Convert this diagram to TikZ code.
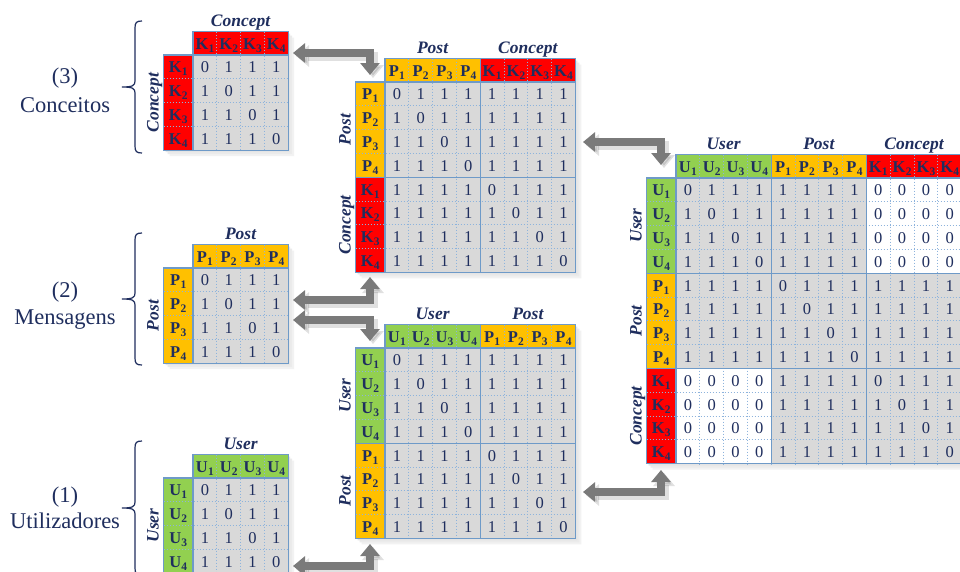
\documentclass[tikz,border=0pt]{standalone}
\usepackage{fontspec}
\setmainfont{Liberation Serif}
\usetikzlibrary{arrows.meta}

\definecolor{ink}{HTML}{1F2E5E}
\definecolor{userc}{HTML}{92D050}
\definecolor{postc}{HTML}{FFC000}
\definecolor{concc}{HTML}{FF0000}
\definecolor{cellc}{HTML}{D9D9D9}
\definecolor{edgec}{HTML}{6E9AC8}
\definecolor{dotc}{HTML}{8DB3DC}
\definecolor{arrowc}{HTML}{7A7A7A}

% block types: 1 = user, 2 = post, 3 = concept
\colorlet{blk1}{userc}\colorlet{blk2}{postc}\colorlet{blk3}{concc}
\expandafter\def\csname blkletter1\endcsname{U}
\expandafter\def\csname blkletter2\endcsname{P}
\expandafter\def\csname blkletter3\endcsname{K}
\expandafter\def\csname blktitle1\endcsname{User}
\expandafter\def\csname blktitle2\endcsname{Post}
\expandafter\def\csname blktitle3\endcsname{Concept}

% cell and header sizes
\def\cw{23.8}\def\ch{23.8}\def\hw{29.5}\def\hh{23.5}

% header label: bold letter with a bold subscript index
\newcommand\hdrlabel[2]{#1\kern0.2pt\raisebox{-3pt}{\fontsize{11.5}{11.5}\selectfont#2}}

\tikzset{
  numtxt/.style={inner sep=0pt, anchor=base, text=ink, font=\fontsize{16.5}{16.5}\selectfont},
  hdrtxt/.style={inner sep=0pt, anchor=base, text=ink, font=\fontsize{16.5}{16.5}\selectfont\bfseries},
  ttltxt/.style={inner sep=0pt, anchor=base, text=ink, font=\fontsize{17.5}{17.5}\selectfont\bfseries\itshape},
  sidetxt/.style={inner sep=0pt, anchor=base, text=ink, font=\fontsize{22.5}{22.5}\selectfont},
  bracestroke/.style={draw=ink, line width=1.2pt},
  dotgrid/.style={draw=dotc, line width=0.7pt, dash pattern=on 1pt off 2pt},
  blockrule/.style={draw=edgec, line width=1.1pt},
  linkarrow/.style={draw=arrowc, line width=8pt,
    {Triangle[width=19pt,length=12pt]}-{Triangle[width=19pt,length=12pt]}},
  linkshade/.style={draw=black, line width=9pt, opacity=.12,
    {Triangle[width=21pt,length=13pt]}-{Triangle[width=21pt,length=13pt]}},
}

% adjacency matrix: #1 name, #2,#3 top-left corner of the data cells, #4 block types
\newcommand\adjmat[4]{%
  \begin{scope}[shift={(#2,#3)}]
    \foreach \t [count=\k] in {#4} {\xdef\nblk{\k}}%
    \pgfmathsetmacro\matW{4*\nblk*\cw}%
    \pgfmathsetmacro\matH{4*\nblk*\ch}%
    \pgfmathtruncatemacro\matNm{4*\nblk-1}%
    % soft drop shadow
    \foreach \o/\s in {6/5,4/8,2/10}
      \fill[black!\s, shift={(\o,\o)}] (0,-\hh) -- (\matW,-\hh) -- (\matW,\matH)
        -- (-\hw,\matH) -- (-\hw,0) -- (0,0) -- cycle;
    % headers, cells and values
    \foreach \r [count=\rb from 0] in {#4} {
      \fill[fill=blk\r] (-\hw,{4*\rb*\ch}) rectangle (0,{4*(\rb+1)*\ch});
      \fill[fill=blk\r] ({4*\rb*\cw},-\hh) rectangle ({4*(\rb+1)*\cw},0);
      \foreach \c [count=\cb from 0] in {#4} {
        \pgfmathtruncatemacro\pr{\r*\c}%
        \ifnum\pr=3 \def\bgc{white}\def\offv{0}\else\def\bgc{cellc}\def\offv{1}\fi
        \fill[fill=\bgc] ({4*\cb*\cw},{4*\rb*\ch}) rectangle ({4*(\cb+1)*\cw},{4*(\rb+1)*\ch});
        \foreach \i in {1,...,4} {\foreach \j in {1,...,4} {
          \pgfmathtruncatemacro\rowi{4*\rb+\i}%
          \pgfmathtruncatemacro\coli{4*\cb+\j}%
          \edef\val{\offv}%
          \ifnum\rowi=\coli \def\val{0}\fi
          \node[numtxt] (#1-\rowi-\coli) at ({(\coli-0.5)*\cw},{(\rowi-0.5)*\ch+6}) {\val};
        }}
      }
    }
    % grid
    \foreach \k in {1,...,\matNm} {
      \draw[dotgrid] ({\k*\cw},-\hh) -- ({\k*\cw},\matH);
      \draw[dotgrid] (-\hw,{\k*\ch}) -- (\matW,{\k*\ch});
    }
    \ifnum\nblk>1
      \pgfmathtruncatemacro\nbm{\nblk-1}%
      \foreach \b in {1,...,\nbm} {
        \draw[blockrule] ({4*\b*\cw},-\hh) -- ({4*\b*\cw},\matH);
        \draw[blockrule] (-\hw,{4*\b*\ch}) -- (\matW,{4*\b*\ch});
      }
    \fi
    \draw[blockrule] (0,-\hh) rectangle (\matW,\matH);
    \draw[blockrule] (-\hw,0) rectangle (\matW,\matH);
    % labels
    \foreach \r [count=\rb from 0] in {#4} {
      \foreach \j in {1,...,4} {
        \pgfmathtruncatemacro\coli{4*\rb+\j}%
        \node[hdrtxt] (#1-c\coli) at ({(\coli-0.5)*\cw},{-\hh/2+6}) {\hdrlabel{\csname blkletter\r\endcsname}{\j}};
        \node[hdrtxt] (#1-r\coli) at ({-\hw/2},{(\coli-0.5)*\ch+6}) {\hdrlabel{\csname blkletter\r\endcsname}{\j}};
      }
      \node[ttltxt] (#1-t\rb) at ({(4*\rb+2)*\cw},{-\hh-5.5}) {\csname blktitle\r\endcsname};
      \node[ttltxt, rotate=90] (#1-s\rb) at ({-\hw-5},{(4*\rb+2)*\ch}) {\csname blktitle\r\endcsname};
    }
  \end{scope}}

% left curly brace: #1 x of the stem, #2 top, #3 bottom
\newcommand\sidebrace[3]{%
  \pgfmathsetmacro\ym{(#2+#3)/2}%
  \draw[bracestroke] (#1+7,#2) .. controls (#1+1.5,#2) and (#1,#2+1.5) .. (#1,#2+7)
    -- (#1,\ym-6) .. controls (#1,\ym-1.5) and (#1-2,\ym) .. (#1-13,\ym)
    .. controls (#1-2,\ym) and (#1,\ym+1.5) .. (#1,\ym+6)
    -- (#1,#3-7) .. controls (#1,#3-1.5) and (#1+1.5,#3) .. (#1+7,#3);}

\begin{document}
\begin{tikzpicture}[x=1pt, y=-1pt]
  \useasboundingbox (0,0) rectangle (960,571);
  \clip (0,0) rectangle (960,571);
  \fill[white] (0,0) rectangle (960,571);

  % side labels and braces
  \node[sidetxt] (lab3a) at (65,83) {(3)};
  \node[sidetxt] (lab3b) at (65,112) {Conceitos};
  \node[sidetxt] (lab2a) at (65,297) {(2)};
  \node[sidetxt] (lab2b) at (65,324) {Mensagens};
  \node[sidetxt] (lab1a) at (65,502) {(1)};
  \node[sidetxt] (lab1b) at (65,528) {Utilizadores};
  \sidebrace{135}{21}{153}
  \sidebrace{135}{233}{365}
  \sidebrace{135}{441}{575}

  % matrices
  \adjmat{conc}{193}{55}{3}
  \adjmat{post}{193}{268}{2}
  \adjmat{user}{193}{478}{1}
  \adjmat{pk}{385}{82}{2,3}
  \adjmat{up}{385}{348}{1,2}
  \adjmat{upk}{676}{178}{1,2,3}

  % connector end points
  \coordinate (a1s) at (293,53);  \coordinate (a1e) at (370,75);
  \coordinate (a2s) at (293,300); \coordinate (a2e) at (370,277);
  \coordinate (a3s) at (293,320); \coordinate (a3e) at (370,341);
  \coordinate (a4s) at (293,566); \coordinate (a4e) at (370,544);
  \coordinate (a5s) at (583,142); \coordinate (a5e) at (661,165);
  \coordinate (a6s) at (583,492); \coordinate (a6e) at (661,470);

  \foreach \a in {1,...,6} {
    \draw[linkshade, transform canvas={shift={(3pt,-3pt)}}] (a\a s) -| (a\a e);
    \draw[linkarrow] (a\a s) -| (a\a e);
  }
\end{tikzpicture}
\end{document}
